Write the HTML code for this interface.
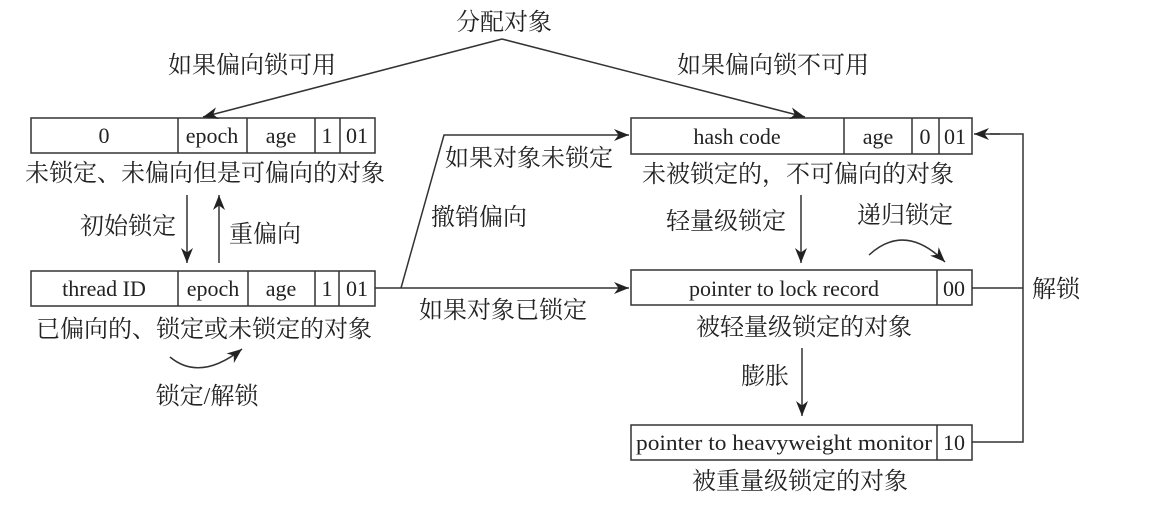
<!DOCTYPE html>
<html><head><meta charset="utf-8"><style>
html,body{margin:0;padding:0;background:#fff;width:1170px;height:518px;overflow:hidden}
svg text{font-family:"Liberation Serif","Noto Serif CJK SC",serif;fill:#222}
.c{font-family:"Liberation Serif","Noto Serif CJK SC","Noto Sans CJK SC",serif;font-size:24px}
.e{font-size:22px}
</style></head><body>
<svg width="1170" height="518" viewBox="0 0 1170 518" xmlns="http://www.w3.org/2000/svg">
<defs><marker id="a" viewBox="0 0 10 10" refX="10" refY="5" markerWidth="15" markerHeight="15" orient="auto" markerUnits="userSpaceOnUse"><path d="M0,1 L10,5 L0,9 L3,5 z" fill="#222"/></marker></defs>
<g stroke="#333" stroke-width="1.5" fill="none">
<rect x="31" y="118" width="344" height="35"/><path d="M178 118V153M247 118V153M315 118V153M340 118V153"/>
<rect x="31" y="271" width="344" height="35"/><path d="M178 271V306M248 271V306M315 271V306M339 271V306"/>
<rect x="631" y="118" width="341" height="36"/><path d="M844 118V154M912 118V154M939 118V154"/>
<rect x="631" y="270" width="341" height="35"/><path d="M937 270V305"/>
<rect x="631" y="425" width="341" height="35"/><path d="M937 425V460"/>
<path d="M502 39L203 117" marker-end="url(#a)"/>
<path d="M502 39L805 117" marker-end="url(#a)"/>
<path d="M375 288H629" marker-end="url(#a)"/>
<path d="M401 288L444 135H629" marker-end="url(#a)"/>
<path d="M187 195V263" marker-end="url(#a)"/>
<path d="M219 263V195" marker-end="url(#a)"/>
<path d="M801 195V263" marker-end="url(#a)"/>
<path d="M802 348V416" marker-end="url(#a)"/>
<path d="M972 288H1023M972 442H1023V134H990" />
<path d="M1000 134H974" marker-end="url(#a)"/>
<path d="M170 357Q200 382 242 349" marker-end="url(#a)"/>
<path d="M869 255Q905 222 945 262" marker-end="url(#a)"/>
</g>
<g class="e" text-anchor="middle">
<text x="104" y="143">0</text><text x="212" y="143">epoch</text><text x="281" y="143">age</text><text x="327" y="143">1</text><text x="357" y="143">01</text>
<text x="104" y="296">thread ID</text><text x="213" y="296">epoch</text><text x="281" y="296">age</text><text x="327" y="296">1</text><text x="357" y="296">01</text>
<text x="737" y="144">hash code</text><text x="878" y="144">age</text><text x="925" y="144">0</text><text x="955" y="144">01</text>
<text x="784" y="296">pointer to lock record</text><text x="954" y="296">00</text>
<text x="784" y="450" textLength="296" lengthAdjust="spacingAndGlyphs">pointer to heavyweight monitor</text><text x="954" y="450">10</text>
</g>
<g class="c" text-anchor="middle">
<text x="504" y="30">分配对象</text>
<text x="252" y="73">如果偏向锁可用</text>
<text x="773" y="73">如果偏向锁不可用</text>
<text x="205" y="181">未锁定、未偏向但是可偏向的对象</text>
<text x="128" y="234">初始锁定</text>
<text x="265" y="242">重偏向</text>
<text x="204" y="337">已偏向的、锁定或未锁定的对象</text>
<text x="207" y="404">锁定/解锁</text>
<text x="529" y="166">如果对象未锁定</text>
<text x="479" y="225">撤销偏向</text>
<text x="503" y="318">如果对象已锁定</text>
<text x="798" y="182">未被锁定的，不可偏向的对象</text>
<text x="726" y="229">轻量级锁定</text>
<text x="905" y="223">递归锁定</text>
<text x="1056" y="297">解锁</text>
<text x="804" y="335">被轻量级锁定的对象</text>
<text x="765" y="384">膨胀</text>
<text x="800" y="489">被重量级锁定的对象</text>
</g>
</svg>
</body></html>
